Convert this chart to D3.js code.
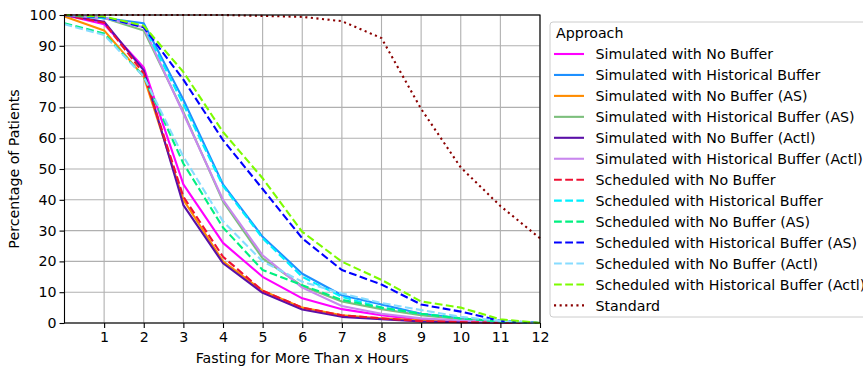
<!DOCTYPE html>
<html>
<head>
<meta charset="utf-8">
<script src="https://cdn.jsdelivr.net/npm/d3@7"></script>
<style>
  body { margin: 0; background: #fff; }
  text { font-family: "DejaVu Sans", sans-serif; }
</style>
</head>
<body>
<div id="myData"></div>
<script>
// hours on the x axis
var hours = [0, 1, 2, 3, 4, 5, 6, 7, 8, 9, 10, 11, 12];
var xTicks = [1, 2, 3, 4, 5, 6, 7, 8, 9, 10, 11, 12];
var yTicks = [0, 10, 20, 30, 40, 50, 60, 70, 80, 90, 100];

// percentage of patients fasting more than x hours
var simNoBuf       = [100, 97, 83, 45, 26, 15, 8, 4.5, 2.5, 1, 0.5, 0.3, 0];
var simHist        = [100, 99, 97.3, 72.5, 45, 28, 16, 9, 6, 3, 1.5, 0.5, 0];
var simNoBufAS     = [99.5, 95, 80, 40, 20, 10.5, 5, 2.5, 1.5, 0.8, 0.4, 0.2, 0];
var simHistAS      = [100, 99, 95, 68.5, 39.5, 21, 12, 7, 4.5, 2.5, 1.2, 0.5, 0];
var simNoBufActl   = [100, 97.8, 82, 38.3, 19.4, 9.8, 4.4, 2, 1.2, 0.5, 0.3, 0.1, 0];
var simHistActl    = [100, 99, 96, 68, 40, 22, 11.5, 5.5, 3, 1.5, 0.8, 0.3, 0];
var schedNoBuf     = [100, 97.5, 81, 41, 21.5, 10.5, 5, 2.5, 1.5, 0.6, 0.3, 0.1, 0];
var schedHist      = [100, 99, 96.5, 71, 44.5, 27.5, 15, 8.5, 5, 3, 1.5, 0.5, 0];
var schedNoBufAS   = [97.3, 94, 80, 51.8, 31, 17.2, 12.3, 7.5, 5, 3, 1.5, 0.5, 0];
var schedHistAS    = [100, 99.3, 96, 79, 59.4, 43.5, 27.5, 17.2, 12.5, 6, 3.7, 0.7, 0];
var schedNoBufActl = [97, 93.5, 80, 54, 33, 20, 13.4, 9.6, 6.5, 4.2, 2, 0.7, 0];
var schedHistActl  = [100, 99.5, 96.5, 81.5, 62, 47, 29.6, 19.9, 14, 7, 5, 1.2, 0];
var standard       = [100, 100, 100, 100, 100, 99.7, 99.4, 98, 92.5, 69.5, 50.5, 38, 27.5];

var seriesNames = [
  "Simulated with No Buffer",
  "Simulated with Historical Buffer",
  "Simulated with No Buffer (AS)",
  "Simulated with Historical Buffer (AS)",
  "Simulated with No Buffer (Actl)",
  "Simulated with Historical Buffer (Actl)",
  "Scheduled with No Buffer",
  "Scheduled with Historical Buffer",
  "Scheduled with No Buffer (AS)",
  "Scheduled with Historical Buffer (AS)",
  "Scheduled with No Buffer (Actl)",
  "Scheduled with Historical Buffer (Actl)",
  "Standard"
];
var seriesValues = [simNoBuf, simHist, simNoBufAS, simHistAS, simNoBufActl, simHistActl,
  schedNoBuf, schedHist, schedNoBufAS, schedHistAS, schedNoBufActl, schedHistActl, standard];

// styles
var colors = ["#ff00ff", "#1e90ff", "#ff8c00", "#7cbf7c", "#5b10a8", "#c987ee",
  "#ee1133", "#00f0ff", "#00f080", "#0000ff", "#87dcff", "#7cfc00", "#8b0000"];
var dashes = [null, null, null, null, null, null,
  "7.8,3.4", "7.8,3.4", "7.8,3.4", "7.8,3.4", "7.8,3.4", "7.8,3.4", "2.1,3.5"];

var series = seriesNames.map(function(name, i) {
  return {
    name: name,
    color: colors[i],
    dash: dashes[i],
    values: hours.map(function(h, j) { return {x: h, y: seriesValues[i][j]}; })
  };
});

var fontSize = "14.2px";

var margin = {top: 15, right: 323, bottom: 46, left: 64.5},
    width = 863 - margin.left - margin.right,
    height = 369 - margin.top - margin.bottom;

var svgRoot = d3.select("#myData")
  .append("svg")
  .attr("width", 863)
  .attr("height", 369);

var svg = svgRoot.append("g")
  .attr("transform", "translate(" + margin.left + "," + margin.top + ")");

var x = d3.scaleLinear().domain([0, 12]).range([0, width]);
var y = d3.scaleLinear().domain([0, 100]).range([height, 0]);

// grid
svg.append("g")
  .selectAll("line")
  .data(xTicks)
  .enter()
  .append("line")
    .attr("x1", function(d) { return x(d); })
    .attr("x2", function(d) { return x(d); })
    .attr("y1", 0)
    .attr("y2", height)
    .attr("stroke", "#b0b0b0")
    .attr("stroke-width", 1.1);

svg.append("g")
  .selectAll("line")
  .data(yTicks)
  .enter()
  .append("line")
    .attr("x1", 0)
    .attr("x2", width)
    .attr("y1", function(d) { return y(d); })
    .attr("y2", function(d) { return y(d); })
    .attr("stroke", "#b0b0b0")
    .attr("stroke-width", 1.1);

// lines
var line = d3.line()
  .x(function(d) { return x(d.x); })
  .y(function(d) { return y(d.y); });

svg.append("g")
  .selectAll("path")
  .data(series)
  .enter()
  .append("path")
    .attr("d", function(d) { return line(d.values); })
    .attr("fill", "none")
    .attr("stroke", function(d) { return d.color; })
    .attr("stroke-width", 2.1)
    .attr("stroke-dasharray", function(d) { return d.dash; })
    .attr("stroke-linejoin", "round");

// axes
var xAxis = svg.append("g")
  .attr("transform", "translate(0," + height + ")")
  .call(d3.axisBottom(x).tickValues(xTicks).tickSize(5).tickPadding(4));
var yAxis = svg.append("g")
  .call(d3.axisLeft(y).tickValues(yTicks).tickSize(5).tickPadding(3));

[xAxis, yAxis].forEach(function(ax) {
  ax.select(".domain").remove();
  ax.selectAll("line").attr("stroke", "#000").attr("stroke-width", 1.1);
  ax.selectAll("text")
    .style("font-family", "DejaVu Sans, sans-serif")
    .style("font-size", fontSize)
    .attr("fill", "#000");
});

// frame
svg.append("rect")
  .attr("x", 0)
  .attr("y", 0)
  .attr("width", width)
  .attr("height", height)
  .attr("fill", "none")
  .attr("stroke", "#000")
  .attr("stroke-width", 1.1);

// axis labels
svg.append("text")
  .attr("x", width / 2)
  .attr("y", height + 40)
  .attr("text-anchor", "middle")
  .style("font-size", fontSize)
  .text("Fasting for More Than x Hours");

svg.append("text")
  .attr("transform", "rotate(-90)")
  .attr("x", -height / 2)
  .attr("y", -46)
  .attr("text-anchor", "middle")
  .style("font-size", fontSize)
  .text("Percentage of Patients");

// legend
var legend = svgRoot.append("g")
  .attr("transform", "translate(550,22)");

legend.append("rect")
  .attr("x", 0)
  .attr("y", 0)
  .attr("width", 330)
  .attr("height", 295)
  .attr("rx", 3)
  .attr("fill", "#fff")
  .attr("fill-opacity", 0.8)
  .attr("stroke", "#cccccc");

legend.append("text")
  .attr("x", 6)
  .attr("y", 16)
  .style("font-size", fontSize)
  .text("Approach");

var rowH = 20.95;
legend.selectAll("line.key")
  .data(series)
  .enter()
  .append("line")
    .attr("class", "key")
    .attr("x1", 4)
    .attr("x2", 34)
    .attr("y1", function(d, i) { return 32 + i * rowH; })
    .attr("y2", function(d, i) { return 32 + i * rowH; })
    .attr("stroke", function(d) { return d.color; })
    .attr("stroke-width", 2.1)
    .attr("stroke-dasharray", function(d) { return d.dash; });

legend.selectAll("text.label")
  .data(series)
  .enter()
  .append("text")
    .attr("class", "label")
    .attr("x", 45.5)
    .attr("y", function(d, i) { return 32 + i * rowH; })
    .attr("dy", "0.36em")
    .style("font-size", fontSize)
    .text(function(d) { return d.name; });
</script>
</body>
</html>
